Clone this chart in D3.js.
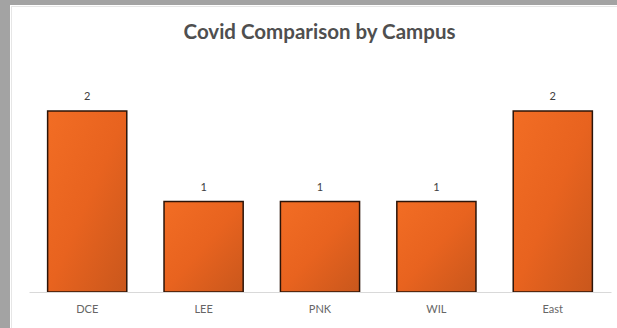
<!DOCTYPE html>
<html><head><meta charset="utf-8">
<script src="https://cdn.jsdelivr.net/npm/d3@7"></script>
<style>html,body{margin:0;padding:0;background:#fff;}svg{display:block;}</style>
</head><body>
<script>
const categories = ["DCE", "LEE", "PNK", "WIL", "East"];
const values = [2, 1, 1, 1, 2];
const title = "Covid Comparison by Campus";

const W = 617, H = 328;
const svg = d3.select("body").append("svg").attr("width", W).attr("height", H);

// screenshot frame
svg.append("rect").attr("x",0).attr("y",0).attr("width",W).attr("height",H).attr("fill","#a3a3a3");
svg.append("rect").attr("x",10).attr("y",5).attr("width",W-10).attr("height",H-5).attr("fill","#ffffff");
svg.append("line").attr("x1",11.5).attr("x2",11.5).attr("y1",6).attr("y2",H).attr("stroke","#e6e6e6");
svg.append("line").attr("x1",11).attr("x2",W).attr("y1",6.5).attr("y2",6.5).attr("stroke","#e6e6e6");

const defs = svg.append("defs");
const grad = defs.append("linearGradient").attr("id","barGrad")
  .attr("x1","0%").attr("y1","0%").attr("x2","100%").attr("y2","100%");
grad.append("stop").attr("offset","0%").attr("stop-color","#f26d24");
grad.append("stop").attr("offset","50%").attr("stop-color","#e8631f");
grad.append("stop").attr("offset","100%").attr("stop-color","#c9571c");

const x = d3.scaleBand().domain(categories).range([29, 611]).paddingInner(0.32).paddingOuter(0.16);
const y = d3.scaleLinear().domain([0, 2]).range([292, 111]);

// title
svg.append("text").attr("x", 319.5).attr("y", 39)
  .attr("text-anchor","middle")
  .style("font-family","Lato, 'Open Sans', sans-serif").style("font-weight","bold")
  .style("font-size","20.5px").attr("fill","#4f4f4f").text(title);

// bars
svg.append("g").selectAll("rect").data(categories).join("rect")
  .attr("x", d => x(d))
  .attr("y", (d,i) => y(values[i]))
  .attr("width", x.bandwidth())
  .attr("height", (d,i) => y(0) - y(values[i]))
  .attr("fill","url(#barGrad)")
  .attr("stroke","#2b1409").attr("stroke-width",1.5);

// baseline axis
const xAxis = d3.axisBottom(x).tickSize(0).tickPadding(13);
const gx = svg.append("g").attr("transform", `translate(0,${y(0)})`).call(xAxis);
gx.select(".domain").attr("stroke","#d9d9d9").attr("stroke-width",1);
gx.selectAll("text").style("font-family","Lato, 'Open Sans', sans-serif")
  .style("font-size","11px").attr("fill","#666666");

// value labels
svg.append("g").selectAll("text").data(categories).join("text")
  .attr("x", d => x(d) + x.bandwidth()/2)
  .attr("y", (d,i) => y(values[i]) - 11)
  .attr("text-anchor","middle")
  .style("font-family","Lato, 'Open Sans', sans-serif")
  .style("font-size","11px").attr("fill","#404040")
  .text((d,i) => values[i]);
</script>
</body></html>
